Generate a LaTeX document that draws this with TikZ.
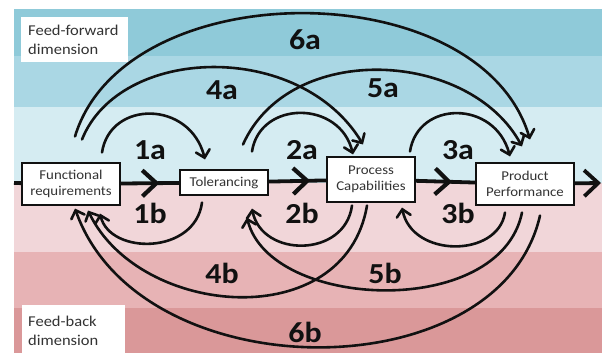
\documentclass[tikz,border=0pt]{standalone}
\usepackage{fontspec}
\setmainfont{Carlito}[FakeStretch=1.1]
\usetikzlibrary{arrows.meta,decorations.markings,calc}
\definecolor{bA}{HTML}{8FCAD9}
\definecolor{bB}{HTML}{AAD7E4}
\definecolor{bC}{HTML}{D5ECF2}
\definecolor{pA}{HTML}{F1D6D9}
\definecolor{pB}{HTML}{E7B3B5}
\definecolor{pC}{HTML}{DA9899}
\definecolor{ink}{HTML}{111111}
\definecolor{boxtext}{HTML}{333333}
\begin{document}
\begin{tikzpicture}[x=1pt,y=-1pt,
  stagebox/.style={draw=ink, line width=1.1pt, fill=white, text=boxtext,
    font=\fontsize{13.5}{15.5}\selectfont, align=center, inner sep=0pt},
  conn/.style={draw=ink, line width=2.6pt, line cap=round,
    -{Straight Barb[length=7pt,width=14pt,line cap=round]}},
  lab/.style={font=\fontsize{29}{31}\selectfont\bfseries, text=ink, inner sep=0pt},
  mainline/.style={draw=ink, line width=3.8pt},
  chevat/.style={postaction={decorate, decoration={markings,
    mark=at position #1 with {\arrow[line width=4.2pt]{Straight Barb[length=14pt,width=26pt]}}}}},
  dimtext/.style={font=\fontsize{15}{19}\selectfont, text=boxtext, align=left, inner sep=0pt}
]
\useasboundingbox (0,0) rectangle (602,353);
\fill[white] (0,0) rectangle (602,353);
% background bands
\fill[bA] (14,9) rectangle (602,56);
\fill[bB] (14,56) rectangle (602,107);
\fill[bC] (14,107) rectangle (602,183);
\fill[pA] (14,183) rectangle (602,252);
\fill[pB] (14,252) rectangle (602,308);
\fill[pC] (14,308) rectangle (602,353);

% dimension labels
\fill[white] (21,17) rectangle (128,62);
\node[dimtext, anchor=west] (ffdim) at (28,39.5) {Feed-forward\\dimension};
\fill[white] (22,305) rectangle (125,353);
\node[dimtext, anchor=west] (fbdim) at (28,331) {Feed-back\\dimension};

% stage nodes
\node[stagebox, minimum width=98pt, minimum height=42pt] (fr) at (71,184) {Functional\\requirements};
\node[stagebox, minimum width=88pt, minimum height=25pt] (tol) at (224,182.5) {Tolerancing};
\node[stagebox, minimum width=88pt, minimum height=45pt] (pc) at (371,179.5) {Process\\Capabilities};
\node[stagebox, minimum width=98pt, minimum height=42pt] (pp) at (525,184) {Product\\Performance};
\coordinate (lft) at (14,183);
\coordinate (rgt) at (601,183);

% main flow
\draw[mainline] (lft) -- (fr);
\draw[mainline, chevat=0.66] (fr) -- (tol);
\draw[mainline, chevat=0.72] (tol) -- (pc);
\draw[mainline, chevat=0.61] (pc) -- (pp);
\draw[mainline, -{Straight Barb[length=14pt,width=26pt]}] (pp) -- (rgt);

% feed-forward arcs
\draw[conn] ($(fr.north)+(31,-10)$) .. controls (110,100) and (190,100) .. ($(tol.north)+(-19,-10)$);
\draw[conn] ($(tol.north)+(28,-18)$) .. controls (260,100) and (340,100) .. ($(pc.north)+(-18,-2)$);
\draw[conn] ($(pc.north)+(39,-5)$) .. controls (418,100) and (495,100) .. ($(pp.north)+(-15,-6)$);
\draw[conn] ($(fr.north)+(11,-23)$) .. controls (120,45) and (300,40) .. ($(pc.north)+(-8,-12)$);
\draw[conn] ($(tol.north)+(19,-25)$) .. controls (290,40) and (470,50) .. ($(pp.north)+(-3,-16)$);
\draw[conn] ($(fr.north)+(4,-26)$) .. controls (125,-28) and (480,-28) .. ($(pp.north)+(5,-23)$);

% feed-back arcs
\draw[conn] ($(tol.south)+(-22,7)$) .. controls (195,255) and (110,255) .. ($(fr.south)+(29,8)$);
\draw[conn] ($(pc.south)+(-19,3)$) .. controls (345,258) and (262,258) .. ($(tol.south)+(28,13)$);
\draw[conn] ($(pp.south)+(-20,7)$) .. controls (498,258) and (412,258) .. ($(pc.south)+(31,5)$);
\draw[conn] ($(pc.south)+(-4,3)$) .. controls (345,335) and (140,318) .. ($(fr.south)+(17,5)$);
\draw[conn] ($(pp.south)+(-3,7)$) .. controls (500,320) and (270,310) .. ($(tol.south)+(23,22)$);
\draw[conn] ($(pp.south)+(15,10)$) .. controls (500,392) and (140,392) .. ($(fr.south)+(4,3)$);

% labels
\node[lab] (l1a) at (150,150) {1a};
\node[lab] (l2a) at (302,150) {2a};
\node[lab] (l3a) at (458,150) {3a};
\node[lab] (l4a) at (222,90) {4a};
\node[lab] (l5a) at (383,88) {5a};
\node[lab] (l6a) at (305,40) {6a};
\node[lab] (l1b) at (150,213) {1b};
\node[lab] (l2b) at (302,213) {2b};
\node[lab] (l3b) at (458,213) {3b};
\node[lab] (l4b) at (222,273) {4b};
\node[lab] (l5b) at (385,273) {5b};
\node[lab] (l6b) at (305,332) {6b};
\end{tikzpicture}
\end{document}
